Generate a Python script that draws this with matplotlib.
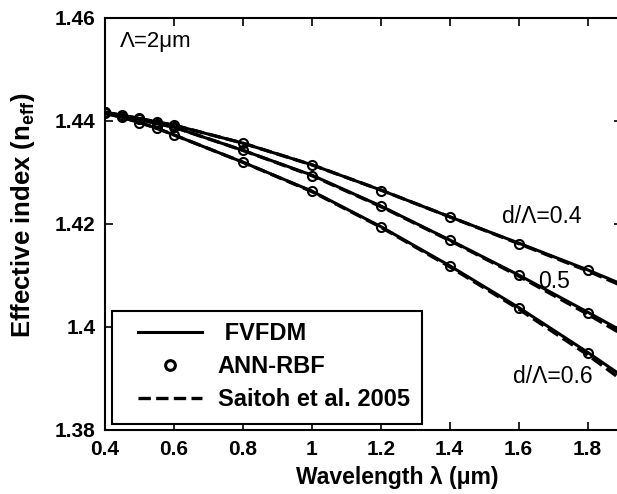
import matplotlib.pyplot as plt
from matplotlib.lines import Line2D
from matplotlib.patches import Rectangle

plt.rcParams['font.family'] = ['Liberation Sans', 'DejaVu Sans']
plt.rcParams['mathtext.fontset'] = 'custom'
plt.rcParams['mathtext.rm'] = 'Liberation Sans'
plt.rcParams['mathtext.bf'] = 'Liberation Sans:bold'
plt.rcParams['mathtext.default'] = 'bf'

# wavelength (um)
wl = [0.4, 0.45, 0.5, 0.55, 0.6, 0.8, 1.0, 1.2, 1.4, 1.6, 1.8, 1.9]

# FVFDM (solid)
fv_04 = [1.4417, 1.4411, 1.4405, 1.4398, 1.4392, 1.4357, 1.4315, 1.4266, 1.4214, 1.4163, 1.4111, 1.4083]
fv_05 = [1.4417, 1.4410, 1.4403, 1.4395, 1.4388, 1.4343, 1.4295, 1.4235, 1.4169, 1.4101, 1.4029, 1.3992]
fv_06 = [1.4415, 1.4407, 1.4397, 1.4386, 1.4373, 1.4320, 1.4264, 1.4195, 1.4119, 1.4038, 1.3951, 1.3905]

# Saitoh et al. 2005 (dashed)
sa_04 = [1.4417, 1.4411, 1.4405, 1.4398, 1.4392, 1.4357, 1.4315, 1.4266, 1.4214, 1.4162, 1.4109, 1.4080]
sa_05 = [1.4417, 1.4410, 1.4403, 1.4395, 1.4388, 1.4343, 1.4294, 1.4234, 1.4168, 1.4099, 1.4025, 1.3986]
sa_06 = [1.4415, 1.4407, 1.4397, 1.4386, 1.4373, 1.4320, 1.4263, 1.4194, 1.4117, 1.4035, 1.3946, 1.3897]

# ANN-RBF (circles)
ann_wl = [0.4, 0.45, 0.5, 0.55, 0.6, 0.8, 1.0, 1.2, 1.4, 1.6, 1.8]
ann_04 = [1.4417, 1.4411, 1.4405, 1.4398, 1.4392, 1.4357, 1.4314, 1.4265, 1.4213, 1.4162, 1.4110]
ann_05 = [1.4417, 1.4410, 1.4403, 1.4395, 1.4388, 1.4343, 1.4294, 1.4234, 1.4168, 1.4100, 1.4027]
ann_06 = [1.4415, 1.4407, 1.4397, 1.4386, 1.4373, 1.4320, 1.4264, 1.4194, 1.4118, 1.4037, 1.3949]

xticks = [0.4, 0.6, 0.8, 1.0, 1.2, 1.4, 1.6, 1.8]
xticklabels = ['0.4', '0.6', '0.8', '1', '1.2', '1.4', '1.6', '1.8']
yticks = [1.38, 1.40, 1.42, 1.44, 1.46]
yticklabels = ['1.38', '1.4', '1.42', '1.44', '1.46']

fig = plt.figure(figsize=(6.17, 4.94), dpi=100)
ax = fig.add_axes([105 / 617, 64 / 494, 517 / 617, 412 / 494])

for fv, sa, an in [(fv_04, sa_04, ann_04), (fv_05, sa_05, ann_05), (fv_06, sa_06, ann_06)]:
    ax.plot(wl, sa, color='black', linestyle='--', linewidth=2.4)
    ax.plot(wl, fv, color='black', linestyle='-', linewidth=2.2)
    ax.plot(ann_wl, an, linestyle='none', marker='o', markersize=6.5,
            markerfacecolor='none', markeredgecolor='black', markeredgewidth=1.5)

ax.set_xlim(0.4, 1.9)
ax.set_ylim(1.38, 1.46)
ax.set_xticks(xticks)
ax.set_xticklabels(xticklabels)
ax.set_yticks(yticks)
ax.set_yticklabels(yticklabels)
ax.tick_params(direction='in', top=True, right=True, length=6, width=1.2,
               labelsize=15, pad=7)
for lab in ax.get_xticklabels() + ax.get_yticklabels():
    lab.set_fontweight('bold')
for s in ax.spines.values():
    s.set_linewidth(1.5)

ax.set_xlabel(u'Wavelength \u03bb (\u03bcm)', fontsize=16.5, fontweight='bold')
ax.xaxis.set_label_coords(0.565, -0.088)
ax.set_ylabel(r'Effective index (n$_{eff}$)', fontsize=18.5, fontweight='bold')
ax.yaxis.set_label_coords(-0.1315, 0.52)

ax.text(120 / 617, 1 - 42 / 494, u'\u039b=2\u03bcm', fontsize=16,
        transform=fig.transFigure, va='center')
ax.text(1.667, 1.4214, u'd/\u039b=0.4', fontsize=16.5, ha='center', va='center')
ax.text(1.702, 1.4089, u'0.5', fontsize=16.5, ha='center', va='center')
ax.text(1.70, 1.3903, u'd/\u039b=0.6', fontsize=16.5, ha='center', va='center')

# legend box drawn separately so the handles can sit indented inside it
ax.add_patch(Rectangle((0.0135, 0.0146), 0.5995, 0.2744, transform=ax.transAxes,
                       facecolor='white', edgecolor='black', linewidth=1.5, zorder=4))
handles = [
    Line2D([], [], color='black', linewidth=2.2),
    Line2D([], [], linestyle='none', marker='o', markersize=7,
           markerfacecolor='none', markeredgecolor='black', markeredgewidth=2.2),
    Line2D([], [], color='black', linestyle='--', linewidth=2.4),
]
labels = [' FVFDM', 'ANN-RBF', 'Saitoh et al. 2005']
leg = ax.legend(handles, labels, loc='upper left', bbox_to_anchor=(0.0638, 0.262),
                prop={'weight': 'bold', 'size': 17}, frameon=False,
                handlelength=2.7, borderpad=0, labelspacing=0.43, handletextpad=0.68,
                borderaxespad=0)
leg.set_zorder(5)

fig.savefig('out.png', dpi=100)
